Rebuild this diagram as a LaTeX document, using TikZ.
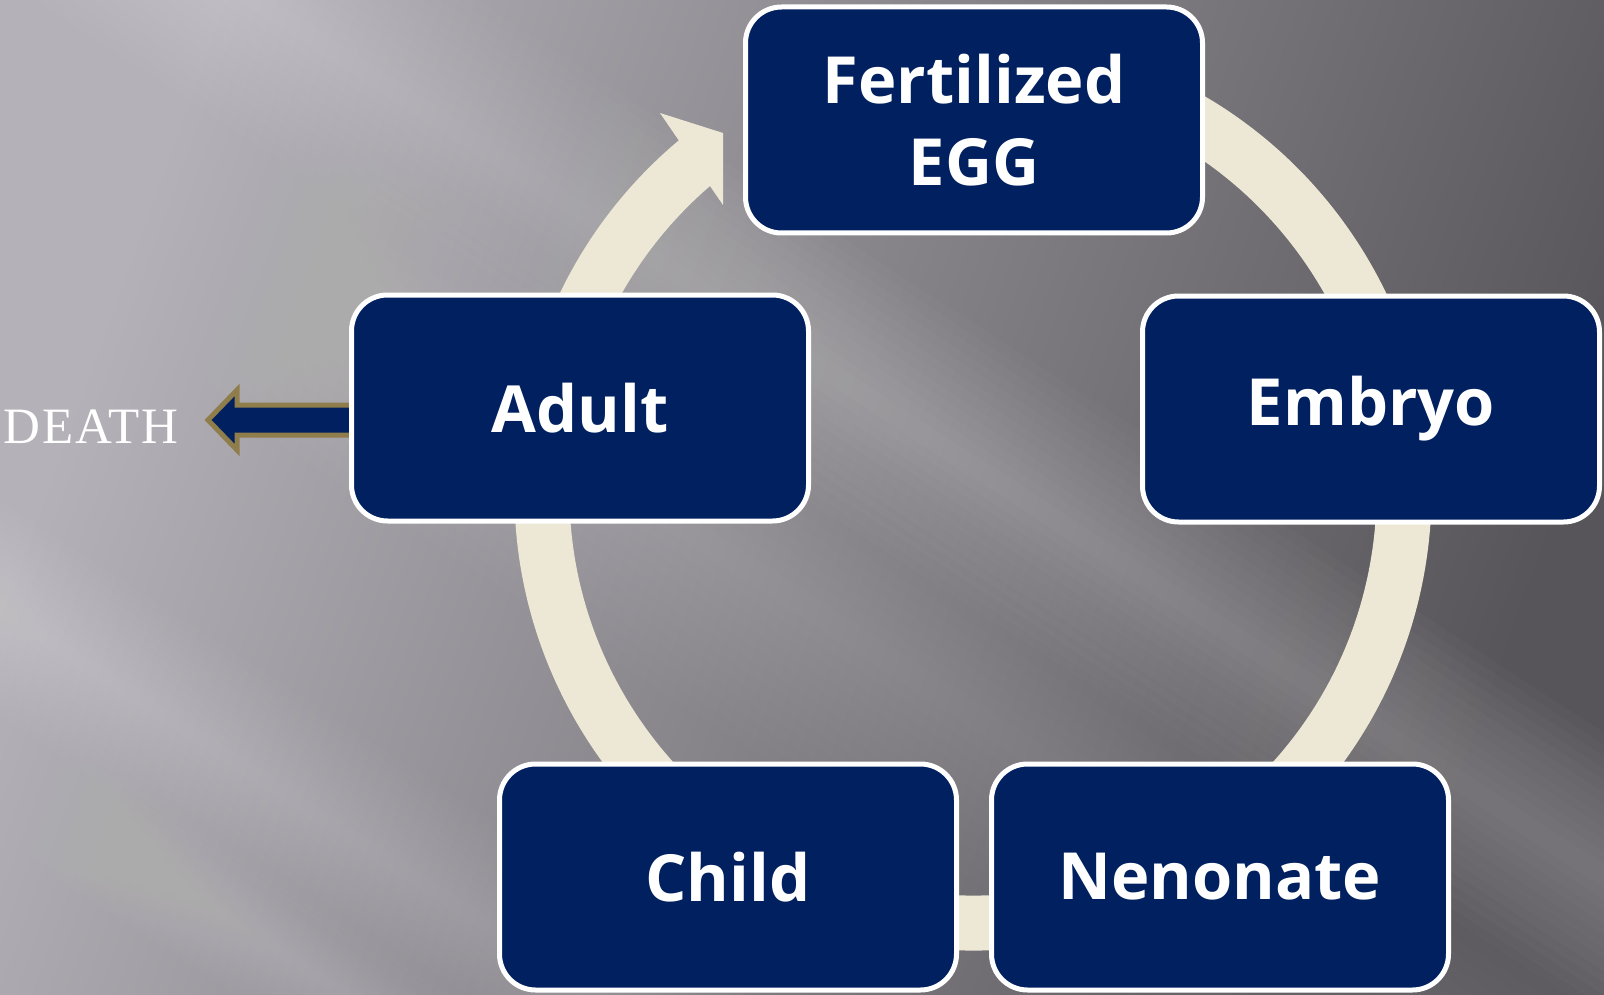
\documentclass[tikz,border=0pt]{standalone}
\usepackage{fontspec}
\setmainfont{Open Sans}
\newfontfamily\boxfont{Open Sans}
\newfontfamily\deathfont[LetterSpace=4]{Liberation Serif}
\usetikzlibrary{calc}
\definecolor{navy}{HTML}{002060}
\definecolor{cream}{HTML}{EDE7D5}
\definecolor{gold}{HTML}{8F7E4B}
\definecolor{bgL}{HTML}{B4B1B8}
\definecolor{bgR}{HTML}{58555A}
\tikzset{
  stage/.style={draw=white, line width=5pt, fill=navy, rounded corners=36pt,
    minimum width=457pt, minimum height=226pt, text=white, align=center, inner sep=0pt,
    font=\boxfont\bfseries\fontsize{65}{82}\selectfont},
  streak/.style={fill=white, fill opacity=#1}
}
\newcommand\bandat[3]{% point, max half-width, opacity per layer
  \foreach \k in {1,...,12}{
    \pgfmathsetmacro\w{#2*\k/12}
    \fill[streak=#3] ($(#1)+(147:2200)+(57:\w)$) -- ($(#1)+(-33:2200)+(57:\w)$)
      -- ($(#1)+(-33:2200)+(237:\w)$) -- ($(#1)+(147:2200)+(237:\w)$) -- cycle;}}
\begin{document}
\begin{tikzpicture}[x=1pt,y=1pt]
\useasboundingbox (0,0) rectangle (1604,-995);
% background
\begin{scope}
  \clip (0,0) rectangle (1604,-995);
  \shade[top color=bgL, bottom color=bgR, shading angle=70] (0,0) rectangle (1604,-995);
  \coordinate (b1) at (1010,-490);
  \coordinate (b2) at (210,-745);
  \coordinate (b3) at (150,-180);
  \coordinate (b4) at (200,-900);
  \bandat{b1}{120}{0.018}
  \bandat{b2}{90}{0.015}
  \bandat{b3}{150}{0.013}
  \bandat{b4}{60}{0.013}
\end{scope}
% ring
\coordinate (ctr) at (973,-492);
\draw[cream, line width=55pt] ($(ctr)+(440:431pt)$) arc[start angle=440, end angle=129.55, radius=431pt];
\fill[cream] (660,-113) -- (723,-133) -- (723,-205) -- cycle;
% death arrow
\draw[gold, fill=navy, line width=5pt, line join=miter]
  (208,-420) -- (237,-390) -- (237,-405) -- (360,-405) -- (360,-435) -- (237,-435) -- (237,-450) -- cycle;
% stages
\node[stage] (egg) at (974,-120) {Fertilized\\EGG};
\node[stage] (embryo) at (1371,-409) {Embryo};
\node[stage] (adult) at (580,-408) {Adult};
\node[stage] (child) at (728,-877) {Child};
\node[stage] (neno) at (1220,-877) {Nenonate};
\node[text=white, anchor=base west, inner sep=0pt, font=\deathfont\fontsize{51}{51}\selectfont] (death) at (3,-443) {DEATH};
\end{tikzpicture}
\end{document}
